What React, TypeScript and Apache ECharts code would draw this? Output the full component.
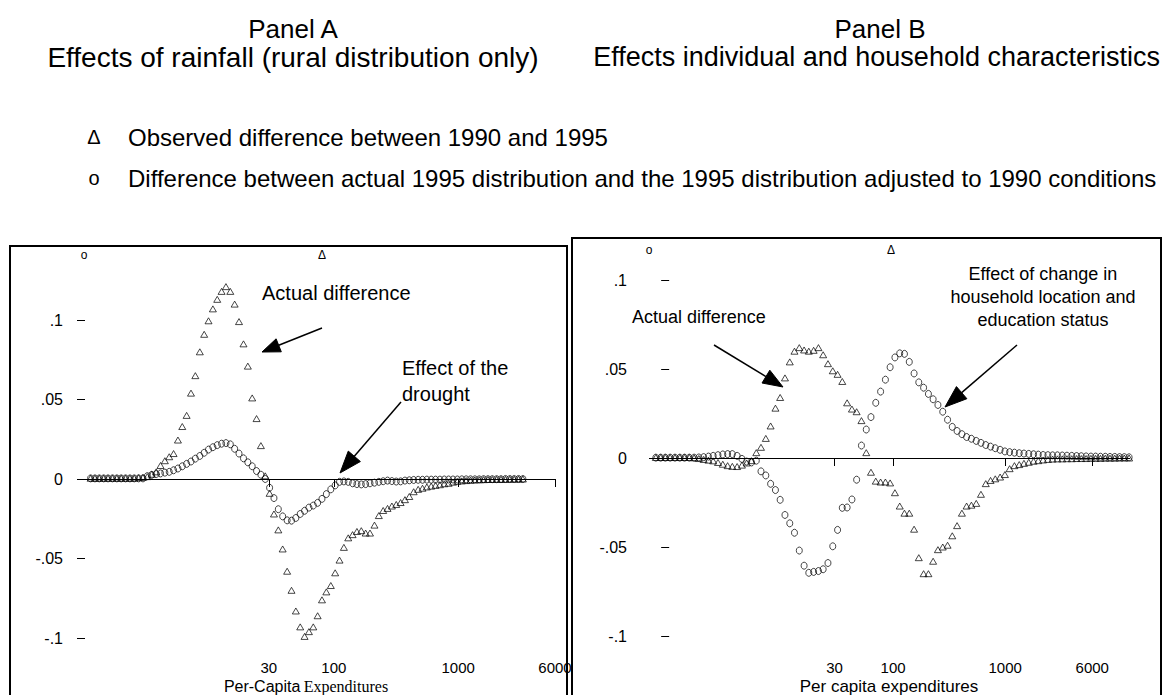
import React, { useEffect, useRef } from "react";
import * as echarts from "echarts";

// ---------- DATA ----------
// Panel A: log10(per-capita expenditure) grid and density differences
const logExpenditureA = [
  0.045, 0.080, 0.115, 0.150, 0.185, 0.221, 0.256, 0.291, 0.326, 0.361,
  0.396, 0.431, 0.466, 0.501, 0.536, 0.572, 0.607, 0.642, 0.677, 0.712,
  0.747, 0.782, 0.817, 0.852, 0.887, 0.923, 0.958, 0.993, 1.028, 1.063,
  1.098, 1.133, 1.168, 1.203, 1.238, 1.274, 1.309, 1.344, 1.379, 1.414,
  1.449, 1.484, 1.519, 1.554, 1.589, 1.625, 1.660, 1.695, 1.730, 1.765,
  1.800, 1.835, 1.870, 1.905, 1.940, 1.976, 2.011, 2.046, 2.081, 2.116,
  2.151, 2.186, 2.221, 2.256, 2.291, 2.327, 2.362, 2.397, 2.432, 2.467,
  2.502, 2.537, 2.572, 2.607, 2.642, 2.678, 2.713, 2.748, 2.783, 2.818,
  2.853, 2.888, 2.923, 2.958, 2.993, 3.029, 3.064, 3.099, 3.134, 3.169,
  3.204, 3.239, 3.274, 3.309, 3.344, 3.380, 3.415, 3.450, 3.485, 3.520,
];
const observedA = [
  0.0005, 0.0005, 0.0005, 0.0005, 0.0005, 0.0005, 0.0005, 0.0005, 0.0005, 0.0005,
  0.0005, 0.0008, 0.001, 0.0015, 0.003, 0.0045, 0.0085, 0.0115, 0.014, 0.016,
  0.0245, 0.033, 0.040, 0.054, 0.065, 0.080, 0.091, 0.0995, 0.107, 0.113,
  0.118, 0.121, 0.118, 0.110, 0.099, 0.085, 0.071, 0.051, 0.038, 0.021,
  0.002, -0.009, -0.022, -0.032, -0.044, -0.058, -0.070, -0.083, -0.093, -0.099,
  -0.096, -0.093, -0.086, -0.076, -0.071, -0.067, -0.059, -0.051, -0.043, -0.037,
  -0.035, -0.033, -0.0325, -0.034, -0.034, -0.029, -0.023, -0.0198, -0.0185, -0.017,
  -0.016, -0.0148, -0.013, -0.011, -0.008, -0.0065, -0.0058, -0.005, -0.0045, -0.004,
  -0.0036, -0.003, -0.0027, -0.002, -0.0015, -0.0012, -0.001, -0.0008, -0.0006, -0.0005,
  -0.0004, -0.0003, -0.0003, -0.0002, -0.0002, -0.0002, -0.0001, -0.0001, 0, 0,
];
const adjustedA = [
  0.0004, 0.0004, 0.0004, 0.0004, 0.0004, 0.0004, 0.0004, 0.0004, 0.0004, 0.0004,
  0.0004, 0.0004, 0.0004, 0.0018, 0.0026, 0.0031, 0.0035, 0.004, 0.0045, 0.0055,
  0.0066, 0.008, 0.0095, 0.011, 0.0128, 0.0145, 0.0165, 0.0185, 0.020, 0.0213,
  0.0222, 0.0226, 0.0218, 0.019, 0.016, 0.013, 0.0105, 0.008, 0.005, 0.0027,
  0.0, -0.0055, -0.012, -0.019, -0.0235, -0.026, -0.0262, -0.0245, -0.022, -0.020,
  -0.018, -0.0167, -0.015, -0.0125, -0.0095, -0.0065, -0.004, -0.0018, -0.0015, -0.0018,
  -0.0027, -0.0032, -0.0034, -0.0032, -0.0027, -0.0023, -0.0018, -0.0014, -0.001, -0.0013,
  -0.0016, -0.0015, -0.001, -0.0008, -0.0006, -0.0005, -0.0005, -0.0004, -0.0004, -0.0004,
  -0.0004, -0.0003, -0.0003, -0.0003, -0.0003, -0.0002, -0.0002, -0.0002, -0.0002, -0.0002,
  -0.0001, -0.0001, -0.0001, -0.0001, -0.0001, 0, 0, 0, 0, 0,
];

// Panel B
const logExpenditureB = [
  -0.119, -0.076, -0.034, 0.009, 0.052, 0.095, 0.137, 0.180, 0.223, 0.265,
  0.308, 0.351, 0.393, 0.436, 0.479, 0.522, 0.564, 0.607, 0.650, 0.692,
  0.735, 0.778, 0.820, 0.863, 0.906, 0.949, 0.991, 1.034, 1.077, 1.119,
  1.162, 1.205, 1.247, 1.290, 1.333, 1.375, 1.418, 1.461, 1.504, 1.546,
  1.589, 1.632, 1.674, 1.717, 1.760, 1.802, 1.845, 1.888, 1.931, 1.973,
  2.016, 2.059, 2.101, 2.144, 2.187, 2.229, 2.272, 2.315, 2.357, 2.400,
  2.443, 2.486, 2.528, 2.571, 2.614, 2.656, 2.699, 2.742, 2.784, 2.827,
  2.870, 2.912, 2.955, 2.998, 3.040, 3.083, 3.126, 3.168, 3.211, 3.254,
  3.296, 3.339, 3.382, 3.424, 3.467, 3.510, 3.552, 3.595, 3.638, 3.680,
  3.723, 3.766, 3.808, 3.851, 3.894, 3.936, 3.979, 4.022, 4.064, 4.107,
];
const observedB = [
  0.0003, 0.0003, 0.0003, 0.0003, 0.0003, 0.0003, 0.0003, 0.0003, 0.0001, -0.0003,
  -0.0008, -0.0012, -0.0016, -0.0025, -0.0035, -0.0043, -0.0047, -0.0048, -0.004, -0.0028,
  -0.0015, 0.003, 0.006, 0.011, 0.018, 0.028, 0.034, 0.045, 0.054, 0.060,
  0.062, 0.0607, 0.060, 0.0605, 0.062, 0.058, 0.053, 0.049, 0.047, 0.043,
  0.031, 0.0275, 0.026, 0.021, 0.003, -0.008, -0.013, -0.0135, -0.0135, -0.014,
  -0.0195, -0.027, -0.031, -0.031, -0.040, -0.056, -0.065, -0.065, -0.058, -0.0515,
  -0.050, -0.049, -0.0437, -0.038, -0.031, -0.027, -0.0265, -0.0255, -0.0204, -0.0144,
  -0.0126, -0.0117, -0.0107, -0.0093, -0.006, -0.0043, -0.0037, -0.003, -0.0024, -0.0018,
  -0.0015, -0.0011, -0.0008, -0.0006, -0.0005, -0.0005, -0.0004, -0.0004, -0.0003, -0.0003,
  -0.0003, -0.0002, -0.0002, -0.0002, -0.0001, -0.0001, -0.0001, 0, 0, 0,
];
const adjustedB = [
  0.0002, 0.0002, 0.0002, 0.0002, 0.0002, 0.0002, 0.0002, 0.0002, 0.0002, 0.0003,
  0.0005, 0.0008, 0.0012, 0.0016, 0.002, 0.0022, 0.0022, 0.0012, -0.0005, -0.002,
  -0.0025, -0.0015, -0.0075, -0.0098, -0.0145, -0.018, -0.0235, -0.032, -0.0367, -0.042,
  -0.052, -0.0605, -0.0645, -0.064, -0.0635, -0.0625, -0.059, -0.0496, -0.0404, -0.028,
  -0.0278, -0.0233, -0.0122, 0.007, 0.016, 0.023, 0.031, 0.0373, 0.044, 0.051,
  0.0565, 0.0588, 0.0585, 0.054, 0.0475, 0.0425, 0.0395, 0.036, 0.033, 0.0298,
  0.026, 0.0215, 0.0175, 0.0152, 0.0134, 0.0118, 0.0108, 0.0096, 0.0085, 0.0073,
  0.0064, 0.0055, 0.0046, 0.0037, 0.0033, 0.003, 0.0027, 0.0025, 0.0023, 0.0021,
  0.0019, 0.0017, 0.0016, 0.0015, 0.0015, 0.0014, 0.0013, 0.0012, 0.0011, 0.001,
  0.0009, 0.0008, 0.0008, 0.0007, 0.0007, 0.0006, 0.0006, 0.0005, 0.0005, 0.0004,
];

const xTickLabels = [30, 100, 1000, 6000];
const yTickValues = [-0.1, -0.05, 0, 0.05, 0.1];

// ---------- STYLE ----------
const SANS = '"Liberation Sans", Arial, sans-serif';
const SERIF = '"Liberation Serif", "Times New Roman", serif';

const fmtY = (v: number) => {
  if (Math.abs(v) < 1e-9) return "0";
  const s = String(Math.round(Math.abs(v) * 1000) / 1000).replace(/^0/, "");
  return (v < 0 ? "-" : "") + s;
};
const fmtX = (v: number) => {
  const t = xTickLabels.find((k) => Math.abs(Math.log10(k) - v) < 1e-6);
  return t !== undefined ? String(t) : "";
};

const xAxisFor = (gridIndex: number, min: number, max: number) => ({
  type: "value",
  gridIndex,
  min,
  max,
  offset: -4,
  axisLine: { show: false },
  splitLine: { show: false },
  axisTick: {
    show: true,
    length: 8,
    customValues: xTickLabels.map((t) => Math.log10(t)),
    lineStyle: { color: "#000", width: 1 },
  },
  axisLabel: {
    show: true,
    customValues: xTickLabels.map((t) => Math.log10(t)),
    formatter: fmtX,
    margin: 10,
    color: "#000",
    fontSize: 15,
    fontFamily: SANS,
  },
});

const yAxisFor = (gridIndex: number, min: number, max: number) => ({
  type: "value",
  gridIndex,
  min,
  max,
  offset: 2,
  axisLine: { show: false },
  splitLine: { show: false },
  axisTick: {
    show: true,
    length: 8,
    customValues: yTickValues,
    lineStyle: { color: "#000", width: 1 },
  },
  axisLabel: {
    show: true,
    customValues: yTickValues,
    formatter: fmtY,
    margin: 20,
    color: "#000",
    fontSize: 16,
    fontFamily: SANS,
  },
});

const markerStyle = { color: "transparent", borderColor: "#000", borderWidth: 0.9 };

const zeroLine = {
  silent: true,
  symbol: ["none", "none"],
  label: { show: false },
  lineStyle: { color: "#000", width: 1, type: "solid" },
  data: [{ yAxis: 0 }],
};

const pairs = (xs: number[], ys: number[]) => xs.map((x, i) => [x, ys[i]]);

const arrow = (x1: number, y1: number, x2: number, y2: number, len: number, w: number) => {
  const dx = x2 - x1;
  const dy = y2 - y1;
  const d = Math.hypot(dx, dy);
  const ux = dx / d;
  const uy = dy / d;
  const bx = x2 - ux * len;
  const by = y2 - uy * len;
  const px = (-uy * w) / 2;
  const py = (ux * w) / 2;
  return [
    { type: "line", shape: { x1, y1, x2: bx, y2: by }, style: { stroke: "#000", lineWidth: 1.5 } },
    {
      type: "polygon",
      shape: { points: [[x2, y2], [bx + px, by + py], [bx - px, by - py]] },
      style: { fill: "#000", stroke: "#000", lineWidth: 1 },
    },
  ];
};

const txt = (text: string, x: number, y: number, size: number, align = "left", family = SANS) => ({
  type: "text",
  x,
  y,
  style: {
    text,
    fill: "#000",
    font: `${size}px ${family}`,
    fontSize: size,
    fontFamily: family,
    align,
    textAlign: align,
    verticalAlign: "middle",
    textVerticalAlign: "middle",
  },
});

export default function App() {
  const ref = useRef<HTMLDivElement>(null);

  useEffect(() => {
    if (!ref.current) return;
    const chart = echarts.init(ref.current, undefined, { renderer: "svg" });

    const option: any = {
      animation: false,
      backgroundColor: "#fff",
      grid: [
        { left: 85, top: 256.4, width: 470, height: 397.5, outerBoundsMode: "none", containLabel: false },
        { left: 649, top: 244.4, width: 481, height: 409.4, outerBoundsMode: "none", containLabel: false },
      ],
      xAxis: [xAxisFor(0, 0, Math.log10(6000)), xAxisFor(1, -0.18, 4.115)],
      yAxis: [yAxisFor(0, -0.11, 0.14), yAxisFor(1, -0.11, 0.12)],
      series: [
        {
          type: "scatter",
          xAxisIndex: 0,
          yAxisIndex: 0,
          symbol: "circle",
          symbolSize: [6, 7],
          itemStyle: markerStyle,
          data: pairs(logExpenditureA, adjustedA),
          markLine: zeroLine,
          silent: true,
        },
        {
          type: "scatter",
          xAxisIndex: 0,
          yAxisIndex: 0,
          symbol: "triangle",
          symbolSize: [7, 6],
          itemStyle: markerStyle,
          data: pairs(logExpenditureA, observedA),
          silent: true,
        },
        {
          type: "scatter",
          xAxisIndex: 1,
          yAxisIndex: 1,
          symbol: "circle",
          symbolSize: [6, 7],
          itemStyle: markerStyle,
          data: pairs(logExpenditureB, adjustedB),
          markLine: zeroLine,
          silent: true,
        },
        {
          type: "scatter",
          xAxisIndex: 1,
          yAxisIndex: 1,
          symbol: "triangle",
          symbolSize: [7, 6],
          itemStyle: markerStyle,
          data: pairs(logExpenditureB, observedB),
          silent: true,
        },
      ],
      graphic: [
        // panel frames
        { type: "rect", shape: { x: 10, y: 246, width: 557, height: 470 }, style: { fill: "none", stroke: "#000", lineWidth: 2 } },
        { type: "rect", shape: { x: 572, y: 238, width: 589, height: 480 }, style: { fill: "none", stroke: "#000", lineWidth: 2 } },
        // titles
        txt("Panel A", 293, 29, 26, "center"),
        txt("Effects of rainfall (rural distribution only)", 293, 57, 28, "center"),
        txt("Panel B", 880, 29, 26, "center"),
        txt("Effects individual and household characteristics", 1160, 57, 27, "right"),
        // legend
        txt("\u0394", 94, 137, 20, "center"),
        txt("Observed difference between 1990 and 1995", 128, 137, 24),
        txt("o", 94, 178, 20, "center"),
        txt("Difference between actual 1995 distribution and the 1995 distribution adjusted to 1990 conditions", 128, 178, 24),
        // key symbols on top of each plot
        txt("o", 84, 255, 12, "center"),
        txt("\u0394", 322, 255, 12, "center"),
        txt("o", 649, 250, 12, "center"),
        txt("\u0394", 891, 250, 12, "center"),
        // Panel A annotations
        txt("Actual difference", 262, 293, 20),
        ...arrow(322, 328, 262, 352, 18, 14),
        txt("Effect of the", 402, 368, 20),
        txt("drought", 402, 394, 20),
        ...arrow(401, 402, 340, 473, 22, 16),
        // Panel B annotations
        txt("Actual difference", 632, 317, 18),
        ...arrow(714, 345, 783, 387, 20, 15),
        txt("Effect of change in", 1043, 274, 18, "center"),
        txt("household location and", 1043, 297, 18, "center"),
        txt("education status", 1043, 320, 18, "center"),
        ...arrow(1017, 345, 945, 407, 22, 16),
        // x-axis titles
        {
          type: "text",
          x: 306,
          y: 686,
          style: {
            text: "{a|Per-Capita} {b|Expenditures}",
            align: "center",
            textAlign: "center",
            verticalAlign: "middle",
            textVerticalAlign: "middle",
            rich: {
              a: { fontSize: 16, fontFamily: SANS, fill: "#000", color: "#000" },
              b: { fontSize: 16, fontFamily: SERIF, fill: "#000", color: "#000" },
            },
          },
        },
        txt("Per capita expenditures", 889, 686, 17, "center"),
      ],
    };

    chart.setOption(option);
    return () => chart.dispose();
  }, []);

  return (
    <div
      ref={ref}
      style={{ position: "fixed", left: 0, top: 0, width: 1163, height: 695, background: "#fff" }}
    />
  );
}
